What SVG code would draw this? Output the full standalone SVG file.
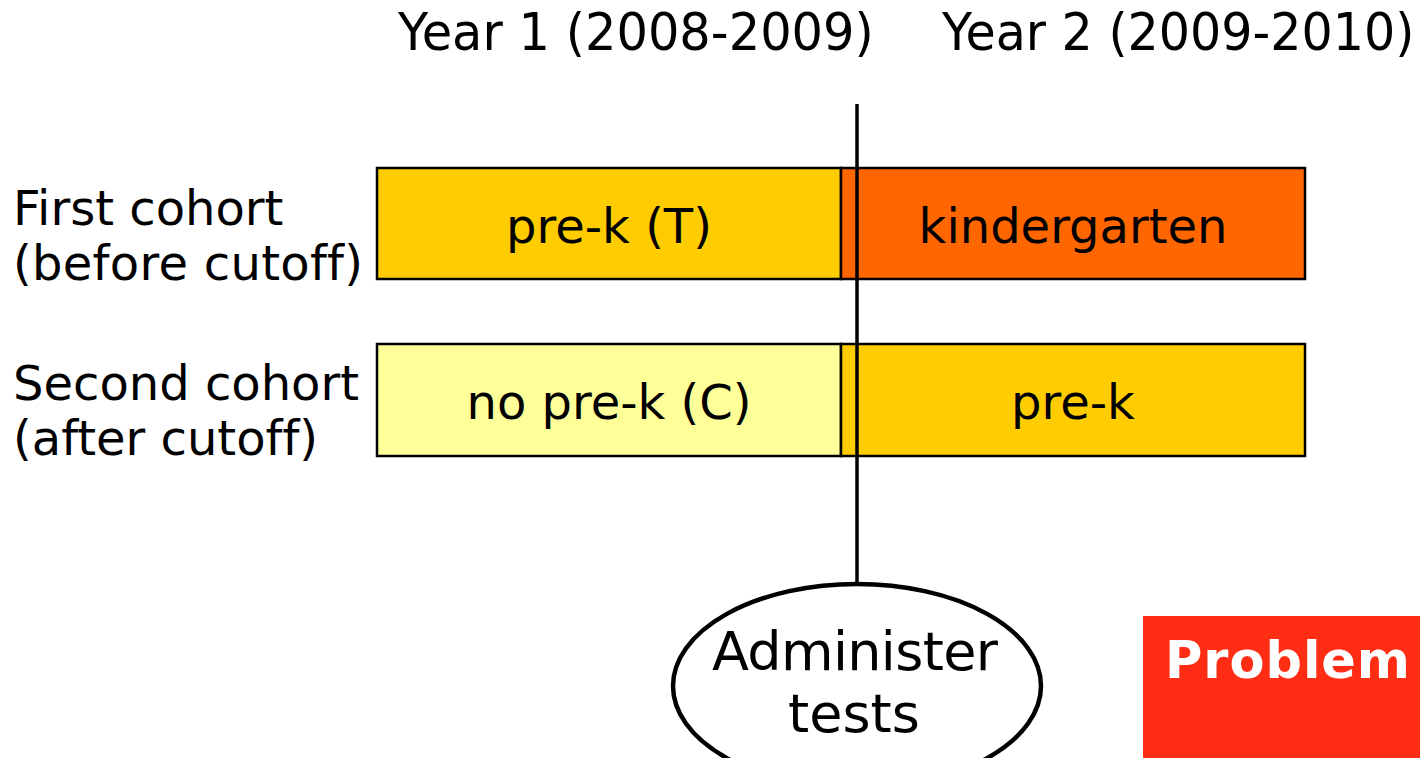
<svg xmlns="http://www.w3.org/2000/svg" width="1420" height="758" viewBox="0 0 1420 758">
  <style>
    text { font-family: "DejaVu Sans", Verdana, sans-serif; fill: #000; font-variant-ligatures: none; }
    .lbl { font-size: 48px; }
    .mid { text-anchor: middle; }
    .bar { stroke: #000; stroke-width: 2.5; }
  </style>
  <rect width="1420" height="758" fill="#fff"/>

  <!-- year headings, squeezed horizontally -->
  <g id="year1"><text transform="translate(398,50) scale(0.97,1)" x="0" y="0" font-size="51">Year 1 (2008-2009)</text></g>
  <g id="year2"><text transform="translate(942,50) scale(0.963,1)" x="0" y="0" font-size="51">Year 2 (2009-2010)</text></g>

  <!-- row labels -->
  <g id="cohort1-label">
    <text class="lbl" x="13" y="225">First cohort</text>
    <text class="lbl" x="13" y="280" textLength="350">(before cutoff)</text>
  </g>
  <g id="cohort2-label">
    <text class="lbl" x="13" y="400">Second cohort</text>
    <text class="lbl" x="13" y="455">(after cutoff)</text>
  </g>

  <!-- first cohort bars -->
  <g id="c1-year1">
    <rect class="bar" x="377" y="168" width="464" height="111" fill="#ffcc00"/>
    <text class="lbl mid" x="609" y="243">pre-k (T)</text>
  </g>
  <g id="c1-year2">
    <rect class="bar" x="841" y="168" width="464" height="111" fill="#ff6600"/>
    <text class="lbl mid" x="1073" y="243">kindergarten</text>
  </g>

  <!-- second cohort bars -->
  <g id="c2-year1">
    <rect class="bar" x="377" y="344" width="464" height="112" fill="#ffff99"/>
    <text class="lbl mid" x="609" y="419">no pre-k (C)</text>
  </g>
  <g id="c2-year2">
    <rect class="bar" x="841" y="344" width="464" height="112" fill="#ffcc00"/>
    <text class="lbl mid" x="1073" y="419">pre-k</text>
  </g>

  <!-- divider from the headings down to the test oval -->
  <g id="connectors">
    <line x1="857" y1="104" x2="857" y2="584" stroke="#000" stroke-width="3.5"/>
  </g>

  <g id="tests">
    <ellipse cx="857" cy="686" rx="184" ry="102" fill="#fff" stroke="#000" stroke-width="4.5"/>
    <text class="mid" x="855" y="670" font-size="54" textLength="286">Administer</text>
    <text class="mid" x="854" y="732" font-size="54">tests</text>
  </g>

  <g id="problem">
    <rect x="1143" y="616" width="277" height="142" fill="#ff2d13"/>
    <text x="1165" y="678" font-size="51" font-weight="bold" style="fill:#fff" textLength="245">Problem</text>
  </g>
</svg>
